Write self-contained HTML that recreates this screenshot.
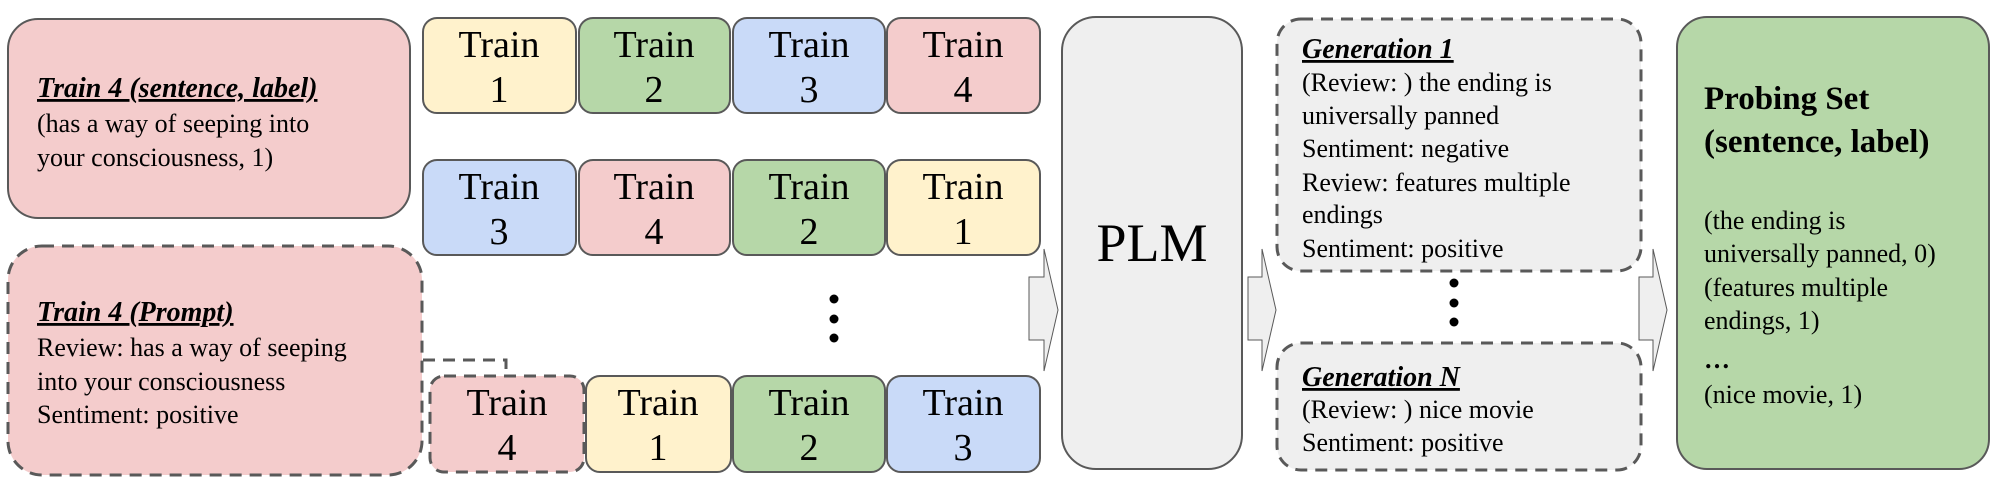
<!DOCTYPE html>
<html><head><meta charset="utf-8"><style>
html,body{margin:0;padding:0;background:#fff;font-family:"Liberation Serif","Times New Roman",Times,serif;}
svg{display:block;font-family:"Liberation Serif","Times New Roman",Times,serif;}
svg text{font-family:"Liberation Serif","Times New Roman",Times,serif !important;fill:#000;}
.t{font-size:26px;}
.tr{font-size:38px;text-anchor:middle;}
.hd{font-size:28px;font-weight:bold;font-style:italic;text-decoration:underline;}
</style></head><body>
<svg width="2004" height="482" viewBox="0 0 2004 482" font-family="Liberation Serif, serif">
<g>
<rect x="8" y="19" width="402" height="199" rx="30" fill="#f4cccc" stroke="#595959" stroke-width="2"/>
<text x="37" y="97" class="hd">Train 4 (sentence, label)</text>
<text x="37" y="132" class="t">(has a way of seeping into</text>
<text x="37" y="166" class="t">your consciousness, 1)</text>
</g>
<g>
<rect x="8" y="246" width="414" height="229" rx="34" fill="#f4cccc" stroke="#595959" stroke-width="3" stroke-dasharray="12,8"/>
<text x="37" y="321" class="hd">Train 4 (Prompt)</text>
<text x="37" y="356" class="t">Review: has a way of seeping</text>
<text x="37" y="390" class="t">into your consciousness</text>
<text x="37" y="423" class="t">Sentiment: positive</text>
<polyline points="423,360 506,360 506,376" fill="none" stroke="#595959" stroke-width="3" stroke-dasharray="12,8"/>
</g>
<g>
<rect x="423" y="18" width="153" height="95" rx="14" fill="#fff2cc" stroke="#595959" stroke-width="2"/>
<rect x="579" y="18" width="151" height="95" rx="14" fill="#b6d7a8" stroke="#595959" stroke-width="2"/>
<rect x="733" y="18" width="152" height="95" rx="14" fill="#c9daf8" stroke="#595959" stroke-width="2"/>
<rect x="887" y="18" width="153" height="95" rx="14" fill="#f4cccc" stroke="#595959" stroke-width="2"/>
<text x="499" y="57" class="tr">Train</text><text x="499" y="102" class="tr">1</text>
<text x="654" y="57" class="tr">Train</text><text x="654" y="102" class="tr">2</text>
<text x="809" y="57" class="tr">Train</text><text x="809" y="102" class="tr">3</text>
<text x="963" y="57" class="tr">Train</text><text x="963" y="102" class="tr">4</text>
</g>
<g>
<rect x="423" y="160" width="153" height="95" rx="14" fill="#c9daf8" stroke="#595959" stroke-width="2"/>
<rect x="579" y="160" width="151" height="95" rx="14" fill="#f4cccc" stroke="#595959" stroke-width="2"/>
<rect x="733" y="160" width="152" height="95" rx="14" fill="#b6d7a8" stroke="#595959" stroke-width="2"/>
<rect x="887" y="160" width="153" height="95" rx="14" fill="#fff2cc" stroke="#595959" stroke-width="2"/>
<text x="499" y="199" class="tr">Train</text><text x="499" y="244" class="tr">3</text>
<text x="654" y="199" class="tr">Train</text><text x="654" y="244" class="tr">4</text>
<text x="809" y="199" class="tr">Train</text><text x="809" y="244" class="tr">2</text>
<text x="963" y="199" class="tr">Train</text><text x="963" y="244" class="tr">1</text>
</g>
<g>
<circle cx="834" cy="299" r="4.5" fill="#000"/><circle cx="834" cy="319" r="4.5" fill="#000"/><circle cx="834" cy="338" r="4.5" fill="#000"/>
</g>
<g>
<rect x="430" y="376" width="154" height="96" rx="14" fill="#f4cccc" stroke="#595959" stroke-width="3" stroke-dasharray="12,8"/>
<rect x="586" y="376" width="145" height="96" rx="14" fill="#fff2cc" stroke="#595959" stroke-width="2"/>
<rect x="733" y="376" width="152" height="96" rx="14" fill="#b6d7a8" stroke="#595959" stroke-width="2"/>
<rect x="887" y="376" width="153" height="96" rx="14" fill="#c9daf8" stroke="#595959" stroke-width="2"/>
<text x="507" y="415" class="tr">Train</text><text x="507" y="460" class="tr">4</text>
<text x="658" y="415" class="tr">Train</text><text x="658" y="460" class="tr">1</text>
<text x="809" y="415" class="tr">Train</text><text x="809" y="460" class="tr">2</text>
<text x="963" y="415" class="tr">Train</text><text x="963" y="460" class="tr">3</text>
</g>
<polygon points="1029,277 1044,277 1044,249 1058,310 1044,371 1044,340 1029,340" fill="#efefef" stroke="#595959" stroke-width="1"/>
<g>
<rect x="1062" y="17" width="180" height="452" rx="34" fill="#efefef" stroke="#595959" stroke-width="2"/>
<text x="1152" y="261" style="font-size:54px;text-anchor:middle;">PLM</text>
</g>
<polygon points="1248,277 1262,277 1262,249 1276,310 1262,371 1262,340 1248,340" fill="#efefef" stroke="#595959" stroke-width="1"/>
<g>
<rect x="1277" y="19" width="364" height="252" rx="24" fill="#efefef" stroke="#595959" stroke-width="3" stroke-dasharray="12,8"/>
<text x="1302" y="58" class="hd">Generation 1</text>
<text x="1302" y="91" class="t">(Review: ) the ending is</text>
<text x="1302" y="124" class="t">universally panned</text>
<text x="1302" y="157" class="t">Sentiment: negative</text>
<text x="1302" y="191" class="t">Review: features multiple</text>
<text x="1302" y="223" class="t">endings</text>
<text x="1302" y="257" class="t">Sentiment: positive</text>
</g>
<g>
<circle cx="1454" cy="283" r="4.5" fill="#000"/><circle cx="1454" cy="303" r="4.5" fill="#000"/><circle cx="1454" cy="322" r="4.5" fill="#000"/>
</g>
<g>
<rect x="1277" y="343" width="364" height="127" rx="24" fill="#efefef" stroke="#595959" stroke-width="3" stroke-dasharray="12,8"/>
<text x="1302" y="386" class="hd">Generation N</text>
<text x="1302" y="418" class="t">(Review: ) nice movie</text>
<text x="1302" y="451" class="t">Sentiment: positive</text>
</g>
<polygon points="1639,277 1653,277 1653,249 1667,310 1653,371 1653,340 1639,340" fill="#efefef" stroke="#595959" stroke-width="1"/>
<g>
<rect x="1677" y="17" width="312" height="452" rx="30" fill="#b6d7a8" stroke="#595959" stroke-width="2"/>
<text x="1704" y="109" style="font-size:33px;font-weight:bold;">Probing Set</text>
<text x="1704" y="152" style="font-size:33px;font-weight:bold;">(sentence, label)</text>
<text x="1704" y="229" class="t">(the ending is</text>
<text x="1704" y="262" class="t">universally panned, 0)</text>
<text x="1704" y="296" class="t">(features multiple</text>
<text x="1704" y="329" class="t">endings, 1)</text>
<text x="1704" y="368" class="t" style="font-weight:bold;">…</text>
<text x="1704" y="403" class="t">(nice movie, 1)</text>
</g>
</svg>
</body></html>
